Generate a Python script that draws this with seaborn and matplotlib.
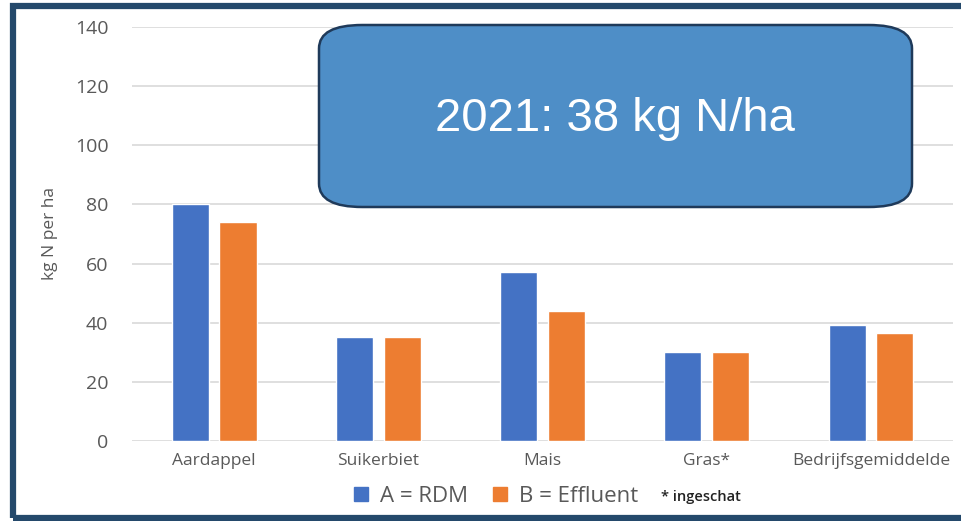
import pandas as pd
import matplotlib.pyplot as plt
import seaborn as sns
from matplotlib.patches import FancyBboxPatch, Rectangle
from matplotlib.lines import Line2D

# Data
gewassen = ["Aardappel", "Suikerbiet", "Mais", "Gras*", "Bedrijfsgemiddelde"]
a_rdm = [80, 35, 57, 30, 39.3]
b_effluent = [74, 35, 44, 30, 36.5]
reeksen = ["A = RDM", "B = Effluent"]
kleuren = ["#4472C4", "#ED7D31"]

df = pd.DataFrame({
    "gewas": gewassen * 2,
    "reeks": [reeksen[0]] * len(gewassen) + [reeksen[1]] * len(gewassen),
    "kg": a_rdm + b_effluent,
})

sns.set_style("white")
plt.rcParams["font.family"] = ["Open Sans", "DejaVu Sans"]

fig = plt.figure(figsize=(9.61, 5.21), dpi=100)
ax = fig.add_axes([0.1374, 0.1536, 0.8543, 0.7946])

sns.barplot(data=df, x="gewas", y="kg", hue="reeks", palette=kleuren,
            width=0.58, gap=0.22, ax=ax, legend=False, saturation=1)

ax.set_ylim(0, 140)
ax.set_xlim(-0.5, 4.5)
ax.set_yticks(range(0, 141, 20))
ax.yaxis.grid(True, color="#d9d9d9", linewidth=1.2)
ax.set_axisbelow(True)
for s in ax.spines.values():
    s.set_visible(False)
ax.tick_params(axis="y", length=0, pad=17, labelsize=14, labelcolor="#595959")
ax.tick_params(axis="x", length=0, pad=9, labelsize=12.5, labelcolor="#595959")
ax.set_xlabel("")
ax.set_ylabel("kg N per ha", fontsize=12.5, color="#595959", labelpad=12)

# legend below plot
handles = [Line2D([], [], marker="s", linestyle="", markersize=10, color=c) for c in kleuren]
fig.legend(handles, reeksen, loc="center", bbox_to_anchor=(0.516, 0.047), ncol=2,
           frameon=False, fontsize=16, handlelength=0.7, handletextpad=0.5,
           columnspacing=1.1, labelcolor="#595959")
fig.text(0.688, 0.047, "* ingeschat", fontsize=10.5, color="#222222", va="center",
         fontweight="semibold")

# annotation box
box = FancyBboxPatch((319 / 961, 1 - 207 / 521), (912 - 319) / 961, (207 - 25) / 521,
                     boxstyle="round,pad=0,rounding_size=0.045", transform=fig.transFigure,
                     facecolor="#4E8EC7", edgecolor="#1F3A5A", linewidth=1.8)
fig.patches.append(box)
fig.text(615 / 961, 1 - 119 / 521, "2021: 38 kg N/ha", fontsize=34, color="white",
         ha="center", va="center", family="Liberation Sans")

# dark frame around slide
frame = Rectangle((13 / 961, 3 / 521), 1.0, 1 - 9 / 521, transform=fig.transFigure,
                  fill=False, edgecolor="#24496B", linewidth=4.5, clip_on=False)
fig.patches.append(frame)

fig.savefig("out.png", dpi=100)
